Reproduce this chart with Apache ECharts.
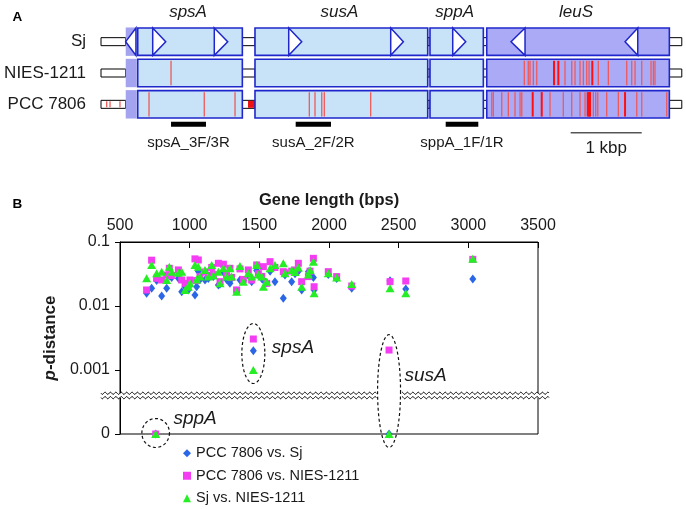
<!DOCTYPE html>
<html><head><meta charset="utf-8">
<script src="https://cdn.jsdelivr.net/npm/echarts@6/dist/echarts.min.js"></script>
<style>html,body{margin:0;padding:0;background:#fff}#c{width:686px;height:509px}</style>
</head><body><div id="c"></div>
<script>
// ================= Panel A data (positions in bp) =================
const strains = ['Sj', 'NIES-1211', 'PCC 7806'];
const geneNames = ['spsA', 'susA', 'sppA', 'leuS'];
const geneStart = [517, 2168, 4632, 5431];
const geneEnd = [1990, 4600, 5383, 8002];
const upstreamOrfStart = 348, upstreamOrfEnd = 503;
const spacerStart = [0, 1990, 4600, 5383, 8002];
const spacerEnd = [348, 2168, 4632, 5431, 8177];
const sjArrowBase = [492, 728, 1595, 2643, 4079, 4952, 5970, 7557];
const sjArrowTip = [348, 911, 1784, 2826, 4257, 5135, 5773, 7378];
const niesSites = [986, 5960, 6016, 6040, 6087, 6135, 6533, 6628, 6674, 6744, 6791, 6839, 6871, 7002, 7143, 7402, 7472, 7519, 7613, 7744, 7777, 7800];
const niesStrongSites = [6378, 6439, 6917];
const pccSites = [80, 127, 267, 676, 1454, 1887, 2933, 3013, 3108, 3144, 3797, 5501, 5524, 5642, 5735, 5829, 5900, 5924, 6322, 6509, 6627, 6744, 6815, 6932, 6965, 6994, 7120, 7284, 7543, 7613, 7965];
const pccStrongSites = [6078, 6205, 6853, 6871, 6885, 7378];
const pccIndelStart = [2070], pccIndelEnd = [2168];
const primerNames = ['spsA_3F/3R', 'susA_2F/2R', 'sppA_1F/1R'];
const primerStart = [986, 2741, 4853];
const primerEnd = [1478, 3238, 5312];
const scaleBarStart = 6613, scaleBarLength = 1000, scaleBarLabel = '1 kbp';

// ================= Panel B data =================
const geneLength = [691, 727, 763, 799, 835, 854, 871, 919, 943, 967, 990, 1002, 1038, 1050, 1062, 1074, 1110, 1134, 1158, 1170, 1206, 1218, 1242, 1265, 1289, 1301, 1337, 1361, 1385, 1421, 1445, 1481, 1493, 1517, 1529, 1553, 1577, 1612, 1672, 1684, 1732, 1756, 1780, 1804, 1852, 1864, 1888, 1893, 1995, 2055, 2163, 2438, 2551, 3032];
const pccVsSj = [.0158, .0189, .025, .0143, .0189, .030, .028, .0271, .0167, .020, .0178, .024, .0149, .020, .035, .026, .0255, .027, .032, .0288, .0213, .022, .034, .026, .0226, .027, .0172, .0255, .025, .030, .024, .036, .0305, .027, .0255, .023, .035, .024, .0132, .0305, .024, .032, .035, .0178, .0344, .030, .028, .0178, .031, .027, .0189, .0248, .0185, .0264];
const pccVsNies = [.0178, .052, .0271, .0255, .0305, .0388, .030, .0366, .0255, .0226, .0213, .0255, .0545, .025, .0524, .0288, .034, .030, .040, .031, .0465, .024, .045, .0305, .0388, .028, .0178, .038, .026, .0366, .0255, .0438, .032, .029, .0412, .0226, .0493, .040, .0344, .033, .035, .0366, .0465, .024, .0288, .035, .0556, .020, .0344, .0288, .0205, .024, .0246, .0536];
const sjVsNies = [.0271, .0438, .0324, .0344, .0255, .0412, .0344, .033, .0344, .0178, .020, .0226, .0438, .026, .0412, .0288, .0366, .0288, .0438, .030, .0344, .0226, .0388, .0288, .0388, .0288, .0167, .0422, .024, .0324, .0288, .0438, .031, .0288, .020, .024, .0388, .0438, .0465, .0324, .0366, .034, .040, .020, .031, .0366, .0493, .0158, .0324, .028, .022, .0189, .0158, .0545];
const outlierNames = ['sppA', 'spsA', 'susA'];
const outlierLength = [756, 1457, 2431];
const outlierPccVsSj = [0, 0.002, 0];
const outlierPccVsNies = [0, 0.00305, 0.00205];
const outlierSjVsNies = [0, 0.001, 0];
const xTicks = [500, 1000, 1500, 2000, 2500, 3000, 3500];
const yTickLevels = [-4, -3, -2, -1];
const yTickLabels = ['0', '0.001', '0.01', '0.1'];
const axisBreakAt = 0.0004;
const seriesNames = ['PCC 7806 vs. Sj', 'PCC 7806 vs. NIES-1211', 'Sj vs. NIES-1211'];

// ================= styles =================
const FONT = 'Liberation Sans, Arial, Helvetica, sans-serif';
const TXT = '#1a1a1a';
const BOX_BLUE = '#c8e2f8', BOX_PURPLE = '#aaaaf6', BOX_EDGE = '#1f27cc', ORF_PURPLE = '#a3a3f0';
const COL_BLUE = '#2b66e6', COL_MAG = '#f43cf2', COL_GREEN = '#25ee25';
const zeroLevel = yTickLevels[0];
const toAxis = p => p > 0 ? Math.log10(p) : zeroLevel;
const labelOffset = {sppA: [4, -14], spsA: [7, -6], susA: [4, -15]};

function rowGeom(api, r) {
  const c = api.coord([0, r]);
  const pitch = api.size([0, 1])[1];
  return {cy: c[1], h: pitch * 0.875, pitch: pitch};
}
function xpx(api, v) { return api.coord([v, 0])[0]; }
function inGene(pos) {
  for (let i = 0; i < geneStart.length; i++) if (pos >= geneStart[i] && pos <= geneEnd[i]) return true;
  return pos >= upstreamOrfStart && pos <= upstreamOrfEnd;
}

// ----- panel A series data -----
const rows = strains.map((s, i) => i);
const spacerData = [], geneData = [], orfData = [];
rows.forEach(r => {
  spacerStart.forEach((s, i) => spacerData.push([s, spacerEnd[i], r]));
  geneStart.forEach((s, i) => geneData.push([s, geneEnd[i], r, i]));
  orfData.push([upstreamOrfStart, upstreamOrfEnd, r]);
});
const arrowData = sjArrowBase.map((b, i) => [b, sjArrowTip[i], 0]);
const siteData = [].concat(
  niesSites.map(p => [p, 1, 0]), niesStrongSites.map(p => [p, 1, 1]),
  pccSites.map(p => [p, 2, 0]), pccStrongSites.map(p => [p, 2, 1]));
const indelData = pccIndelStart.map((s, i) => [s, pccIndelEnd[i], 2]);
const primerData = primerNames.map((n, i) => [primerStart[i], primerEnd[i], 2, i]);
const scaleData = [[scaleBarStart, scaleBarStart + scaleBarLength, 2]];
const geneLabelData = geneNames.map((n, i) => [geneStart[i], geneEnd[i], 0, i]);

const axA = {xAxisIndex: 1, yAxisIndex: 1, coordinateSystem: 'cartesian2d', clip: false, silent: true};

const panelA = [
  Object.assign({type: 'custom', z: 1, data: spacerData, renderItem: (p, api) => {
    const g = rowGeom(api, api.value(2));
    const x0 = xpx(api, api.value(0)), x1 = xpx(api, api.value(1));
    return {type: 'rect', shape: {x: x0, y: g.cy - 4, width: x1 - x0, height: 8},
      style: {fill: '#fff', stroke: '#000', lineWidth: 1}};
  }}, axA),
  Object.assign({type: 'custom', z: 2, data: indelData, renderItem: (p, api) => {
    const g = rowGeom(api, api.value(2));
    const x0 = xpx(api, api.value(0)), x1 = xpx(api, api.value(1));
    return {type: 'rect', shape: {x: x0, y: g.cy - 3.5, width: x1 - x0, height: 7},
      style: {fill: '#ee1111'}};
  }}, axA),
  Object.assign({type: 'custom', z: 2, data: orfData, renderItem: (p, api) => {
    const g = rowGeom(api, api.value(2));
    const x0 = xpx(api, api.value(0)), x1 = xpx(api, api.value(1));
    return {type: 'rect', shape: {x: x0, y: g.cy - g.h / 2 - 0.5, width: x1 - x0, height: g.h + 1},
      style: {fill: ORF_PURPLE}};
  }}, axA),
  Object.assign({type: 'custom', z: 3, data: geneData, renderItem: (p, api) => {
    const g = rowGeom(api, api.value(2));
    const x0 = xpx(api, api.value(0)), x1 = xpx(api, api.value(1));
    const name = geneNames[api.value(3)];
    return {type: 'rect', shape: {x: x0, y: g.cy - g.h / 2, width: x1 - x0, height: g.h},
      style: {fill: name === 'leuS' ? BOX_PURPLE : BOX_BLUE, stroke: BOX_EDGE, lineWidth: 1.6}};
  }}, axA),
  Object.assign({type: 'custom', z: 4, data: siteData, renderItem: (p, api) => {
    const g = rowGeom(api, api.value(1));
    const pos = api.value(0), strong = api.value(2) === 1;
    const x = xpx(api, pos);
    const hh = inGene(pos) ? g.h / 2 - 1.5 : 3;
    return {type: 'line', shape: {x1: x, y1: g.cy - hh, x2: x, y2: g.cy + hh},
      style: {stroke: strong ? '#ff1010' : '#ee5a5a', lineWidth: strong ? 2 : 1.3}};
  }}, axA),
  Object.assign({type: 'custom', z: 5, data: arrowData, renderItem: (p, api) => {
    const g = rowGeom(api, api.value(2));
    const xb = xpx(api, api.value(0)), xt = xpx(api, api.value(1));
    return {type: 'polygon', shape: {points: [[xb, g.cy - g.h / 2], [xt, g.cy], [xb, g.cy + g.h / 2]]},
      style: {fill: '#fff', stroke: BOX_EDGE, lineWidth: 1.5}};
  }}, axA),
  Object.assign({type: 'custom', z: 5, data: primerData, renderItem: (p, api) => {
    const g = rowGeom(api, api.value(2));
    const x0 = xpx(api, api.value(0)), x1 = xpx(api, api.value(1));
    return {type: 'group', children: [
      {type: 'rect', shape: {x: x0, y: g.cy + 17.5, width: x1 - x0, height: 5}, style: {fill: '#000'}},
      {type: 'text', style: {text: primerNames[api.value(3)], x: (x0 + x1) / 2, y: g.cy + 39,
        align: 'center', verticalAlign: 'middle', fill: TXT, fontSize: 15, fontFamily: FONT}}
    ]};
  }}, axA),
  Object.assign({type: 'custom', z: 5, data: scaleData, renderItem: (p, api) => {
    const g = rowGeom(api, api.value(2));
    const x0 = xpx(api, api.value(0)), x1 = xpx(api, api.value(1));
    return {type: 'group', children: [
      {type: 'line', shape: {x1: x0, y1: g.cy + 28.5, x2: x1, y2: g.cy + 28.5}, style: {stroke: '#000', lineWidth: 1}},
      {type: 'text', style: {text: scaleBarLabel, x: (x0 + x1) / 2, y: g.cy + 44,
        align: 'center', verticalAlign: 'middle', fill: TXT, fontSize: 17, fontFamily: FONT}}
    ]};
  }}, axA),
  Object.assign({type: 'custom', z: 5, data: geneLabelData, renderItem: (p, api) => {
    const g = rowGeom(api, api.value(2));
    const x0 = xpx(api, api.value(0)), x1 = xpx(api, api.value(1));
    return {type: 'text', style: {text: geneNames[api.value(3)], x: (x0 + x1) / 2 - 2, y: g.cy - 29.5,
      align: 'center', verticalAlign: 'middle', fill: TXT, fontSize: 17, fontStyle: 'italic', fontFamily: FONT}};
  }}, axA)
];

// ----- panel B -----
const allLength = geneLength.concat(outlierLength);
const sets = [pccVsSj.concat(outlierPccVsSj), pccVsNies.concat(outlierPccVsNies), sjVsNies.concat(outlierSjVsNies)];
const symbols = ['diamond', 'rect', 'triangle'];
const symSizes = [[7, 9], 7, [9, 8]];
const colors = [COL_BLUE, COL_MAG, COL_GREEN];
const scatterSeries = seriesNames.map((n, k) => ({
  type: 'scatter', name: n, xAxisIndex: 0, yAxisIndex: 0, z: 3 + k,
  symbol: symbols[k], symbolSize: symSizes[k], itemStyle: {color: colors[k], opacity: 1},
  data: allLength.map((x, i) => [x, toAxis(sets[k][i])]), silent: true
}));

const ellipseData = outlierNames.map((n, i) => {
  const v = [outlierPccVsSj[i], outlierPccVsNies[i], outlierSjVsNies[i]].map(toAxis);
  return [outlierLength[i], Math.max.apply(null, v), Math.min.apply(null, v), i];
});
function ellipseGeom(api, len, top, bot) {
  const cx = api.coord([len, top])[0];
  const yt = api.coord([len, top])[1] - 15.5;
  const yb = api.coord([len, bot])[1] + 13.5;
  const rx = (yb - yt) > 35 ? 11.5 : 13.8;
  return {cx: cx, cy: (yt + yb) / 2, rx: rx, ry: (yb - yt) / 2};
}
const ellipseSeries = {
  type: 'custom', xAxisIndex: 0, yAxisIndex: 0, coordinateSystem: 'cartesian2d', clip: false, silent: true, z: 2,
  data: ellipseData,
  renderItem: (p, api) => {
    const e = ellipseGeom(api, api.value(0), api.value(1), api.value(2));
    const pts = [];
    for (let a = 0; a < 72; a++) {
      const t = a / 72 * Math.PI * 2;
      pts.push([e.cx + e.rx * Math.cos(t), e.cy + e.ry * Math.sin(t)]);
    }
    const name = outlierNames[api.value(3)];
    const off = labelOffset[name];
    return {type: 'group', children: [
      {type: 'polygon', shape: {points: pts}, style: {fill: 'none', stroke: '#111', lineWidth: 1.2, lineDash: [3, 2.5]}},
      {type: 'text', style: {text: name, x: e.cx + e.rx + off[0], y: e.cy + off[1], align: 'left', verticalAlign: 'middle',
        fill: TXT, fontSize: 19, fontStyle: 'italic', fontFamily: FONT}}
    ]};
  }
};

const breakSeries = {
  type: 'custom', xAxisIndex: 0, yAxisIndex: 0, coordinateSystem: 'cartesian2d', clip: false, silent: true, z: 2,
  data: [[xTicks[0], toAxis(axisBreakAt)]],
  renderItem: (p, api) => {
    const yc = api.coord([api.value(0), api.value(1)])[1];
    const xl = api.coord([xTicks[0], 0])[0] - 19;
    const xr = api.coord([xTicks[xTicks.length - 1], 0])[0] + 11;
    const gaps = [];
    ellipseData.forEach(d => {
      const e = ellipseGeom(api, d[0], d[1], d[2]);
      if (e.cy - e.ry < yc && e.cy + e.ry > yc) gaps.push([e.cx - e.rx - 1, e.cx + e.rx + 1]);
    });
    const children = [{type: 'rect', shape: {x: xl, y: yc - 2.2, width: xr - xl, height: 4.4}, style: {fill: '#fff'}}];
    [-2.2, 2.2].forEach(dy => {
      let seg = [];
      const flush = () => { if (seg.length > 1) children.push({type: 'polyline', shape: {points: seg}, style: {stroke: '#000', lineWidth: 1, fill: 'none'}}); seg = []; };
      for (let x = xl; x <= xr; x += 0.5) {
        const inGap = gaps.some(g => x > g[0] && x < g[1]);
        if (inGap) { flush(); continue; }
        seg.push([x, yc + dy + 1.1 * Math.sin((x - xl) / 5.4 * Math.PI * 2)]);
      }
      flush();
    });
    return {type: 'group', children: children};
  }
};

const chart = echarts.init(document.getElementById('c'), null, {renderer: 'canvas'});
chart.setOption({
  animation: false,
  backgroundColor: '#fff',
  textStyle: {fontFamily: FONT},
  graphic: [
    {type: 'text', x: 12.5, y: 17.5, style: {text: 'A', fontSize: 13.5, fontWeight: 'bold', fontFamily: FONT, fill: '#000', verticalAlign: 'middle'}},
    {type: 'text', x: 12.5, y: 204, style: {text: 'B', fontSize: 13.5, fontWeight: 'bold', fontFamily: FONT, fill: '#000', verticalAlign: 'middle'}}
  ],
  grid: [
    {left: 120, top: 242, right: 148, bottom: 75, show: true, borderColor: '#000', borderWidth: 1, backgroundColor: 'transparent'},
    {left: 101, top: 26, right: 4, bottom: 389}
  ],
  legend: {
    orient: 'vertical', left: 183, top: 445, padding: 0, itemWidth: 8, itemHeight: 8, itemGap: 6, selectedMode: false,
    textStyle: {fontSize: 14.5, color: TXT, fontFamily: FONT, lineHeight: 16.5},
    data: seriesNames.map((n, k) => ({name: n, icon: symbols[k]}))
  },
  xAxis: [
    {type: 'value', gridIndex: 0, position: 'top', min: xTicks[0], max: xTicks[xTicks.length - 1], interval: 500,
      name: 'Gene length (bps)', nameLocation: 'middle', nameGap: 33,
      nameTextStyle: {fontSize: 16.5, fontWeight: 'bold', color: TXT, fontFamily: FONT},
      axisLine: {show: true, lineStyle: {color: '#000', width: 1}},
      axisTick: {show: true, inside: true, length: 6, lineStyle: {color: '#000'}},
      axisLabel: {fontSize: 16, color: TXT, margin: 8, fontFamily: FONT, formatter: v => String(v)},
      splitLine: {show: false}},
    {type: 'value', gridIndex: 1, min: 0, max: 8180, show: false}
  ],
  yAxis: [
    {type: 'value', gridIndex: 0, min: yTickLevels[0], max: yTickLevels[yTickLevels.length - 1], interval: 1,
      name: '{i|p}-distance', nameLocation: 'middle', nameGap: 58, nameRotate: 90,
      nameTextStyle: {fontSize: 17, fontWeight: 'bold', color: TXT, fontFamily: FONT,
        rich: {i: {fontSize: 17, fontWeight: 'bold', fontStyle: 'italic', color: TXT, fontFamily: FONT}}},
      axisLine: {show: true, lineStyle: {color: '#000', width: 1}},
      axisTick: {show: true, inside: false, length: 5, lineStyle: {color: '#000'}},
      axisLabel: {fontSize: 16, color: TXT, margin: 10, fontFamily: FONT,
        formatter: v => { const i = yTickLevels.indexOf(v); return i >= 0 ? yTickLabels[i] : ''; }},
      splitLine: {show: false}},
    {type: 'category', gridIndex: 1, data: strains, inverse: true,
      axisLine: {show: false}, axisTick: {show: false},
      axisLabel: {fontSize: 17, color: TXT, margin: 15, fontFamily: FONT}}
  ],
  series: panelA.concat([breakSeries, ellipseSeries], scatterSeries)
});
</script></body></html>
